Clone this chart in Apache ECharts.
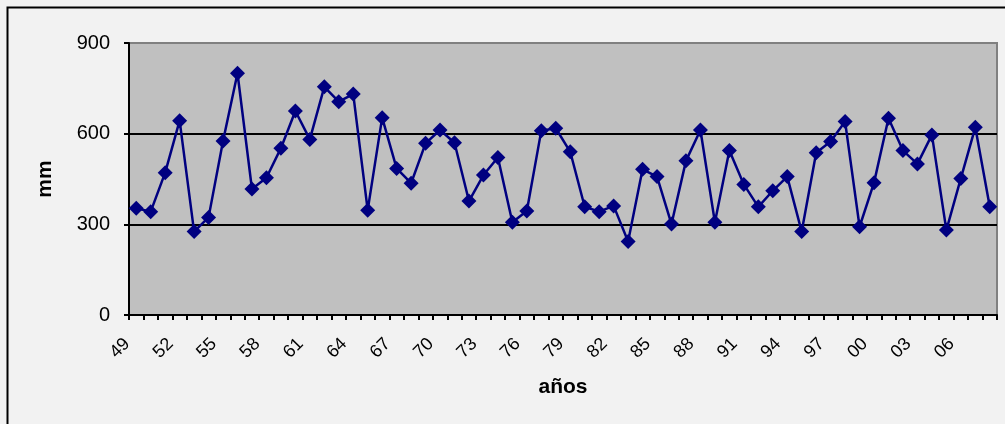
<!DOCTYPE html>
<html>
<head>
<meta charset="utf-8">
<script src="https://cdn.jsdelivr.net/npm/echarts@6/dist/echarts.min.js"></script>
<style>
html,body{margin:0;padding:0;background:#F2F2F2;}
#c{width:1005px;height:424px;}
</style>
</head>
<body>
<div id="c"></div>
<script>
const years = ['49','50','51','52','53','54','55','56','57','58','59','60','61','62','63','64','65','66','67','68','69','70','71','72','73','74','75','76','77','78','79','80','81','82','83','84','85','86','87','88','89','90','91','92','93','94','95','96','97','98','99','00','01','02','03','04','05','06','07','08'];
const rainfall = [353,342,471,643,276,323,576,800,417,454,552,675,581,755,706,731,347,653,485,436,568,612,570,377,463,521,307,344,610,618,540,358,342,361,243,482,458,301,510,612,307,544,432,358,411,458,276,537,574,640,292,438,651,544,500,596,281,452,621,358];
const yTicks = [0,300,600,900];
const xTitle = 'años';
const yTitle = 'mm';

const chart = echarts.init(document.getElementById('c'), null, {renderer:'canvas'});
chart.setOption({
  backgroundColor:'#F2F2F2',
  animation:false,
  graphic:[{
    type:'rect', left:5, top:5, z:100,
    shape:{x:0,y:0,width:1010,height:430},
    style:{fill:'none', stroke:'#000', lineWidth:2}
  }],
  grid:{left:129, top:43, right:8, bottom:109, show:true, backgroundColor:'#C0C0C0', borderColor:'#808080', borderWidth:2},
  xAxis:{
    type:'category', data:years, boundaryGap:true,
    name:xTitle, nameLocation:'middle', nameGap:62,
    nameTextStyle:{fontFamily:'Liberation Sans, Arial', fontWeight:'bold', fontSize:21, color:'#000'},
    axisLine:{lineStyle:{color:'#000', width:2}},
    axisTick:{show:true, interval:0, length:5, lineStyle:{color:'#000', width:2}},
    axisLabel:{interval:2, rotate:45, margin:17, padding:[0,13,0,0], fontFamily:'Liberation Sans, Arial', fontSize:18, color:'#000'},
    splitLine:{show:false}
  },
  yAxis:{
    type:'value', min:yTicks[0], max:yTicks[yTicks.length-1], interval:300,
    name:yTitle, nameLocation:'middle', nameGap:73, nameRotate:90,
    nameTextStyle:{fontFamily:'Liberation Sans, Arial', fontWeight:'bold', fontSize:21, color:'#000'},
    axisLine:{show:true, lineStyle:{color:'#000', width:2}},
    axisTick:{show:true, length:5, lineStyle:{color:'#000', width:2}},
    axisLabel:{margin:19, fontFamily:'Liberation Sans, Arial', fontSize:20, color:'#000'},
    splitLine:{show:true, lineStyle:{color:['#000','#000','#000','#808080'], width:2}}
  },
  series:[{
    type:'line', data:rainfall,
    symbol:'diamond', symbolSize:15, showAllSymbol:true,
    lineStyle:{color:'#000080', width:2.5},
    itemStyle:{color:'#000080'},
    z:5
  }]
});
</script>
</body>
</html>
